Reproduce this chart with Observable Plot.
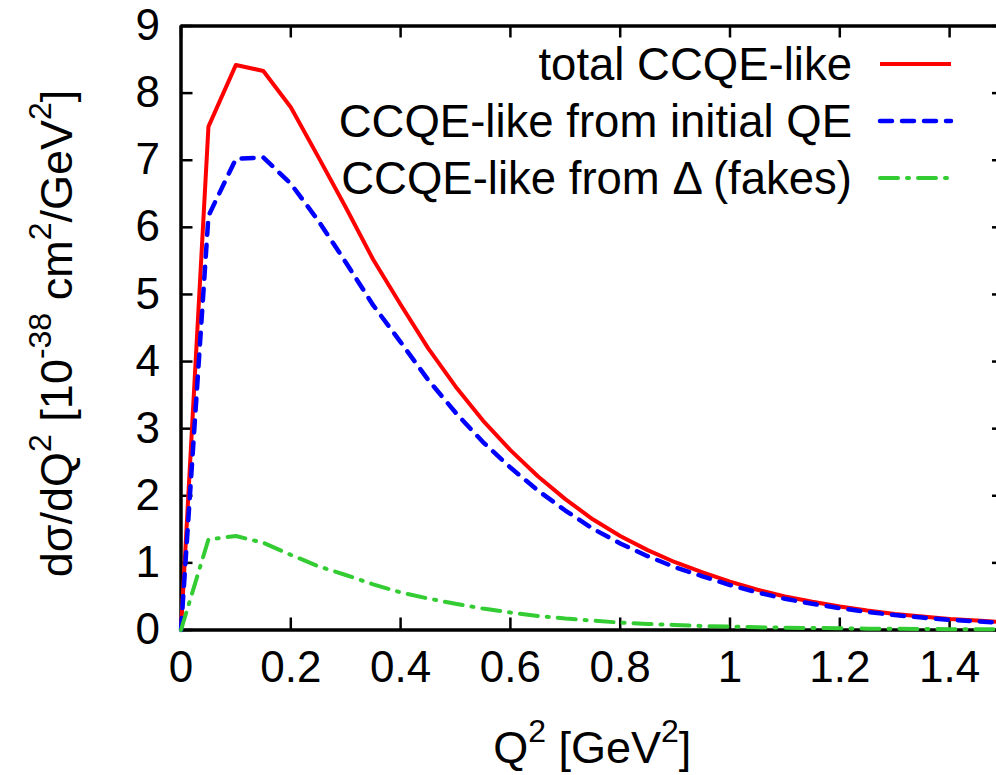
<!DOCTYPE html>
<html><head><meta charset="utf-8">
<script src="https://cdn.jsdelivr.net/npm/d3@7"></script>
<script src="https://cdn.jsdelivr.net/npm/@observablehq/plot@0.6"></script>
<style>
html,body{margin:0;padding:0;background:#fff;}
#chart{width:996px;height:775px;}
</style></head><body><div id="chart"></div>
<script>
// ---- data ----
const q2 = [0, 0.05, 0.1, 0.15, 0.2, 0.25, 0.3, 0.35, 0.4, 0.45, 0.5, 0.55, 0.6, 0.65, 0.7, 0.75,
            0.8, 0.85, 0.9, 0.95, 1.0, 1.05, 1.1, 1.15, 1.2, 1.25, 1.3, 1.35, 1.4, 1.45, 1.5];
const total = [0, 7.50, 8.42, 8.33, 7.79, 7.05, 6.30, 5.52, 4.85, 4.20, 3.63, 3.12, 2.68, 2.29, 1.95, 1.65,
               1.40, 1.19, 1.01, 0.86, 0.72, 0.60, 0.50, 0.42, 0.35, 0.29, 0.24, 0.20, 0.165, 0.14, 0.115];
const fromQE = [0, 6.17, 7.02, 7.04, 6.65, 6.10, 5.48, 4.84, 4.29, 3.73, 3.24, 2.80, 2.42, 2.08, 1.78, 1.51,
                1.29, 1.10, 0.935, 0.80, 0.67, 0.56, 0.465, 0.39, 0.325, 0.27, 0.222, 0.185, 0.152, 0.129, 0.105];
const fromDelta = [0, 1.35, 1.40, 1.30, 1.12, 0.95, 0.82, 0.68, 0.56, 0.47, 0.39, 0.32, 0.26, 0.21, 0.17, 0.14,
                   0.11, 0.09, 0.075, 0.06, 0.05, 0.04, 0.035, 0.03, 0.025, 0.02, 0.018, 0.015, 0.013, 0.011, 0.01];
const seriesNames = ["total CCQE-like", "CCQE-like from initial QE", "CCQE-like from \u0394 (fakes)"];
const xTicks = [0, 0.2, 0.4, 0.6, 0.8, 1, 1.2, 1.4];
const yTicks = [0, 1, 2, 3, 4, 5, 6, 7, 8, 9];

// ---- styles ----
const colors = ["#ff0000", "#0000ff", "#33cc33"];
const dashes = [null, "12,10", "18,9,2,9"];
const widths = [4, 4.5, 4];
const FONT = "'Liberation Sans', Arial, Helvetica, sans-serif";

const rows = (vals, k) => q2.map((x, i) => ({x, y: vals[i], k}));
const seriesData = [rows(total, 0), rows(fromQE, 1), rows(fromDelta, 2)];

const W = 996, H = 775;
const mL = 180.5, mT = 25.5, mB = H - 629.5, mR = 0;
const frameW = W - mL - mR, frameH = H - mT - mB;
const tickLen = 12;

const plot = Plot.plot({
  width: W, height: H,
  marginLeft: mL, marginTop: mT, marginRight: mR, marginBottom: mB,
  style: {fontFamily: FONT, fontSize: "44px", color: "#000", background: "#fff", overflow: "hidden"},
  x: {domain: [0, 1.5], range: [mL, 1004]},
  y: {domain: [0, 9], range: [H - mB, mT]},
  marks: [
    // inward ticks
    Plot.tickX(xTicks, {x: d => d, stroke: "#000", strokeWidth: 2.5, insetTop: frameH - tickLen}),
    Plot.tickX(xTicks, {x: d => d, stroke: "#000", strokeWidth: 2.5, insetBottom: frameH - tickLen}),
    Plot.tickY(yTicks, {y: d => d, stroke: "#000", strokeWidth: 2.5, insetRight: frameW - tickLen}),
    Plot.tickY(yTicks, {y: d => d, stroke: "#000", strokeWidth: 2.5, insetLeft: frameW - 4}),
    // frame
    Plot.ruleX([0, 1.5], {stroke: "#000", strokeWidth: 3.5}),
    Plot.ruleY([0, 9], {stroke: "#000", strokeWidth: 3.5}),
    // curves
    ...seriesData.map((d, k) => Plot.line(d, {
      x: "x", y: "y", stroke: colors[k], strokeWidth: widths[k],
      strokeDasharray: dashes[k], strokeLinecap: k ? "round" : "butt", strokeLinejoin: "round"
    })),
    // tick labels
    Plot.axisX(xTicks, {anchor: "bottom", tickSize: 0, tickPadding: 21, tickFormat: d => String(d), label: null, fontSize: 44}),
    Plot.axisY(yTicks, {anchor: "left", tickSize: 0, tickPadding: 21, tickFormat: d => String(d), label: null, fontSize: 44})
  ]
});
document.getElementById("chart").appendChild(plot);

// ---- axis titles and legend ----
const svg = d3.select(plot);
const xs = plot.scale("x"), ys = plot.scale("y");
const LAB = 45, SUP = 32, RISE = 21;

function addRich(sel, parts) {
  parts.forEach(([txt, sup]) => {
    const t = sel.append("tspan").text(txt);
    if (sup) t.attr("dy", -RISE).style("font-size", SUP + "px");
    else t.attr("dy", 0);
  });
}
// x title
const xt = svg.append("text")
  .attr("x", (xs.apply(0) + xs.apply(1.5)) / 2).attr("y", 763)
  .attr("text-anchor", "middle").style("font-size", LAB + "px").style("font-family", FONT).attr("fill", "#000");
[["Q", 0], ["2", 1], [" [GeV", 0], ["2", 1], ["]", 0]].forEach(([txt, sup], i, arr) => {
  const t = xt.append("tspan").text(txt);
  if (sup) t.attr("dy", -RISE).style("font-size", SUP + "px");
  else if (i > 0 && arr[i - 1][1]) t.attr("dy", RISE);
});
// y title
const yt = svg.append("text")
  .attr("transform", `translate(72,${(ys.apply(0) + ys.apply(9)) / 2 + 6}) rotate(-90)`)
  .attr("text-anchor", "middle").style("font-size", LAB + "px").style("font-family", FONT).attr("fill", "#000");
[["d\u03c3/dQ", 0], ["2", 1], [" [10", 0], ["-38", 1], [" cm", 0], ["2", 1], ["/GeV", 0], ["2", 1], ["]", 0]]
  .forEach(([txt, sup], i, arr) => {
    const t = yt.append("tspan").text(txt);
    if (sup) t.attr("dy", -RISE).style("font-size", SUP + "px");
    else if (i > 0 && arr[i - 1][1]) t.attr("dy", RISE);
  });

// legend
const lg = svg.append("g");
const legY0 = 64, legDy = 57, legTextX = 852, legL1 = 880, legL2 = 951;
seriesNames.forEach((name, k) => {
  const y = legY0 + k * legDy;
  lg.append("text").attr("x", legTextX).attr("y", y).attr("dy", "0.35em")
    .attr("text-anchor", "end").style("font-size", "45.5px").style("font-family", FONT).attr("fill", "#000")
    .text(name);
  lg.append("line").attr("x1", legL1).attr("x2", legL2).attr("y1", y).attr("y2", y)
    .attr("stroke", colors[k]).attr("stroke-width", widths[k])
    .attr("stroke-dasharray", dashes[k]).attr("stroke-linecap", k ? "round" : "butt");
});
</script>
</body></html>
